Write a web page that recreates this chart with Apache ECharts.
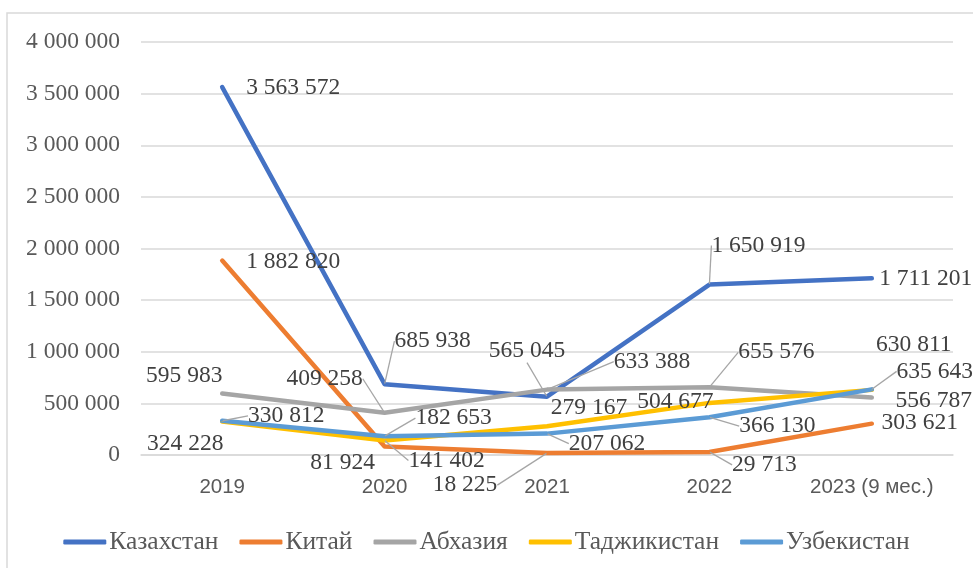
<!DOCTYPE html>
<html>
<head>
<meta charset="utf-8">
<script src="https://cdn.jsdelivr.net/npm/echarts@6/dist/echarts.min.js"></script>
<style>
  html, body { margin: 0; padding: 0; background: #fff; }
  #chart { width: 973px; height: 568px; }
</style>
</head>
<body>
<div id="chart"></div>
<script>
const years = ["2019", "2020", "2021", "2022", "2023 (9 мес.)"];

const kazakhstan = [3563572, 685938, 565045, 1650919, 1711201];
const china = [1882820, 81924, 18225, 29713, 303621];
const abkhazia = [595983, 409258, 633388, 655576, 556787];
const tajikistan = [324228, 141402, 279167, 504677, 630811];
const uzbekistan = [330812, 182653, 207062, 366130, 635643];

const yTicks = { min: 0, max: 4000000, interval: 500000 };

// label offsets from point (label centre), and whether a leader line is drawn
const labelShift = {
    "Казахстан": [[71, 1], [48, -43], [-20, -46], [49, -39], [54, 1]],
    "Китай": [[71, 1], [-42, 16], [-82, 32], [55, 13], [48, -1]],
    "Абхазия": [[-38, -18], [-60, -34], [105, -28], [67, -35], [62, 3]],
    "Таджикистан": [[-37, 22], [62, 20], [42, -18], [-34, -1], [42, -45]],
    "Узбекистан": [[64, -5], [69, -18], [60, 10], [68, 9], [63, -18]],
};
const leaders = {
    "Казахстан": [false, true, true, true, false],
    "Китай": [false, false, true, true, false],
    "Абхазия": [false, true, true, true, false],
    "Таджикистан": [false, true, false, false, false],
    "Узбекистан": [true, true, true, true, true],
};

const colors = {
    "Казахстан": "#4472c4",
    "Китай": "#ed7d31",
    "Абхазия": "#a5a5a5",
    "Таджикистан": "#ffc000",
    "Узбекистан": "#5b9bd5",
};

function fmt(v) {
    return String(v).replace(/\B(?=(\d{3})+(?!\d))/g, " ");
}

function makeSeries(name, values) {
    return {
        name: name,
        type: "line",
        symbol: "circle",
        symbolSize: 1,
        showSymbol: true,
        itemStyle: { color: colors[name] },
        lineStyle: { color: colors[name], width: 4.5, cap: "round", join: "round" },
        label: {
            show: true,
            position: "inside",
            align: "center",
            verticalAlign: "middle",
            fontFamily: "Liberation Serif",
            fontSize: 23.5,
            color: "#404040",
            formatter: (p) => fmt(p.value),
        },
        labelLine: {
            show: false,
            lineStyle: { color: "#a6a6a6", width: 1.3 },
        },
        labelLayout: (params) => {
            let s = labelShift[name][params.dataIndex];
            return { dx: s[0], dy: s[1] };
        },
        data: values.map((v, i) => ({
            value: v,
            labelLine: { show: leaders[name][i] },
        })),
        emphasis: { disabled: true },
        z: 2,
    };
}

const chart = echarts.init(document.getElementById("chart"), null, { renderer: "canvas" });

chart.setOption({
    animation: false,
    color: Object.values(colors),
    grid: {
        left: 141,
        right: 20,
        top: 42,
        bottom: 113,
        containLabel: false,
    },
    graphic: [
        {
            type: "polyline",
            shape: { points: [[7, 568], [7, 13], [973, 13]] },
            style: { stroke: "#d9d9d9", lineWidth: 1.5, fill: null },
            silent: true,
        },
    ],
    legend: {
        left: "center",
        top: 524,
        itemWidth: 43,
        itemHeight: 5,
        itemGap: 21,
        icon: "roundRect",
        textStyle: {
            fontFamily: "Liberation Serif",
            fontSize: 25.5,
            color: "#595959",
            padding: [0, 0, 0, -2],
        },
        data: Object.keys(colors),
    },
    xAxis: {
        type: "category",
        data: years,
        boundaryGap: true,
        axisLine: { show: true, lineStyle: { color: "#d9d9d9", width: 1.5 } },
        axisTick: { show: false },
        axisLabel: {
            margin: 22,
            fontFamily: "Liberation Sans",
            fontSize: 20.5,
            color: "#595959",
        },
    },
    yAxis: {
        type: "value",
        min: yTicks.min,
        max: yTicks.max,
        interval: yTicks.interval,
        axisLine: { show: false },
        axisTick: { show: false },
        splitLine: { lineStyle: { color: "#d9d9d9", width: 1.5 } },
        axisLabel: {
            margin: 21,
            fontFamily: "Liberation Serif",
            fontSize: 23.5,
            color: "#595959",
            formatter: (v) => fmt(v),
        },
    },
    series: [
        makeSeries("Казахстан", kazakhstan),
        makeSeries("Китай", china),
        makeSeries("Абхазия", abkhazia),
        makeSeries("Таджикистан", tajikistan),
        makeSeries("Узбекистан", uzbekistan),
    ],
});
</script>
</body>
</html>
